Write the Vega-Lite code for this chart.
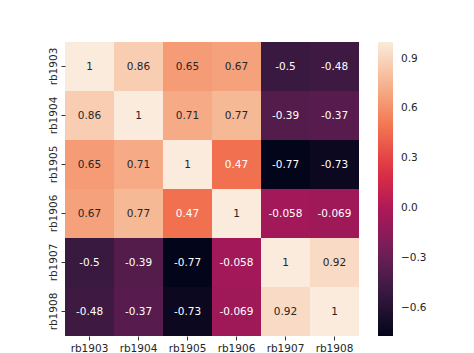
{
  "$schema": "https://vega.github.io/schema/vega-lite/v6.json",
  "width": 294,
  "height": 294,
  "autosize": {"type": "none"},
  "padding": {"left": 65, "top": 42, "right": 115, "bottom": 17},
  "background": "white",
  "config": {
    "view": {"stroke": null},
    "font": "DejaVu Sans",
    "axis": {"labelFont": "DejaVu Sans", "labelFontSize": 10.5, "labelColor": "#262626", "tickColor": "#333333", "tickSize": 4, "labelPadding": 3, "domain": false, "grid": false, "title": null}
  },
  "data": {
    "values": [
      {"row": "rb1903", "col": "rb1903", "value": 1},
      {"row": "rb1903", "col": "rb1904", "value": 0.86},
      {"row": "rb1903", "col": "rb1905", "value": 0.65},
      {"row": "rb1903", "col": "rb1906", "value": 0.67},
      {"row": "rb1903", "col": "rb1907", "value": -0.5},
      {"row": "rb1903", "col": "rb1908", "value": -0.48},
      {"row": "rb1904", "col": "rb1903", "value": 0.86},
      {"row": "rb1904", "col": "rb1904", "value": 1},
      {"row": "rb1904", "col": "rb1905", "value": 0.71},
      {"row": "rb1904", "col": "rb1906", "value": 0.77},
      {"row": "rb1904", "col": "rb1907", "value": -0.39},
      {"row": "rb1904", "col": "rb1908", "value": -0.37},
      {"row": "rb1905", "col": "rb1903", "value": 0.65},
      {"row": "rb1905", "col": "rb1904", "value": 0.71},
      {"row": "rb1905", "col": "rb1905", "value": 1},
      {"row": "rb1905", "col": "rb1906", "value": 0.47},
      {"row": "rb1905", "col": "rb1907", "value": -0.77},
      {"row": "rb1905", "col": "rb1908", "value": -0.73},
      {"row": "rb1906", "col": "rb1903", "value": 0.67},
      {"row": "rb1906", "col": "rb1904", "value": 0.77},
      {"row": "rb1906", "col": "rb1905", "value": 0.47},
      {"row": "rb1906", "col": "rb1906", "value": 1},
      {"row": "rb1906", "col": "rb1907", "value": -0.058},
      {"row": "rb1906", "col": "rb1908", "value": -0.069},
      {"row": "rb1907", "col": "rb1903", "value": -0.5},
      {"row": "rb1907", "col": "rb1904", "value": -0.39},
      {"row": "rb1907", "col": "rb1905", "value": -0.77},
      {"row": "rb1907", "col": "rb1906", "value": -0.058},
      {"row": "rb1907", "col": "rb1907", "value": 1},
      {"row": "rb1907", "col": "rb1908", "value": 0.92},
      {"row": "rb1908", "col": "rb1903", "value": -0.48},
      {"row": "rb1908", "col": "rb1904", "value": -0.37},
      {"row": "rb1908", "col": "rb1905", "value": -0.73},
      {"row": "rb1908", "col": "rb1906", "value": -0.069},
      {"row": "rb1908", "col": "rb1907", "value": 0.92},
      {"row": "rb1908", "col": "rb1908", "value": 1}
    ]
  },
  "encoding": {
    "x": {"field": "col", "type": "nominal", "sort": null, "scale": {"paddingInner": 0, "paddingOuter": 0}, "axis": {"labelAngle": 0}},
    "y": {"field": "row", "type": "nominal", "sort": null, "scale": {"paddingInner": 0, "paddingOuter": 0}, "axis": {"labelAngle": 270, "labelAlign": "center", "labelBaseline": "bottom"}}
  },
  "layer": [
    {
      "mark": {"type": "rect"},
      "encoding": {
        "color": {
          "field": "value",
          "type": "quantitative",
          "scale": {
            "domain": [-0.77, -0.517143, -0.264286, -0.011429, 0.241429, 0.494286, 0.747143, 1.0],
            "range": ["#03051A", "#35193E", "#701F57", "#AD1759", "#E13342", "#F37651", "#F6B48F", "#FAEBDD"],
            "interpolate": "rgb"
          },
          "legend": {
            "title": null,
            "orient": "right",
            "offset": 19,
            "padding": 0,
            "gradientLength": 294,
            "gradientThickness": 15,
            "gradientStrokeWidth": 0,
            "labelOffset": 8,
            "labelFontSize": 10.5,
            "labelColor": "#262626",
            "labelFont": "DejaVu Sans",
            "values": [-0.6, -0.3, 0, 0.3, 0.6, 0.9],
            "format": ".1f"
          }
        }
      }
    },
    {
      "mark": {"type": "text", "fontSize": 10.5, "font": "DejaVu Sans"},
      "encoding": {
        "text": {"field": "value", "type": "nominal"},
        "color": {
          "condition": {"test": "datum.value > 0.55", "value": "#262626"},
          "value": "#ffffff"
        }
      }
    }
  ]
}
